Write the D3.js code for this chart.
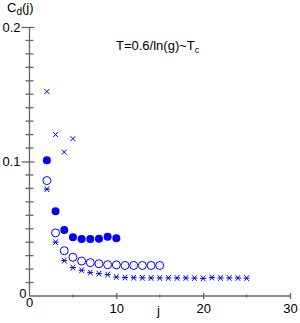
<!DOCTYPE html>
<html>
<head>
<meta charset="utf-8">
<script src="https://cdn.jsdelivr.net/npm/d3@7"></script>
<style>
  body { margin: 0; background: #fff; }
  svg { display: block; font-family: "Liberation Sans", Arial, sans-serif; }
</style>
</head>
<body>
<svg id="chart" width="300" height="323"></svg>
<script>
// values
const crossJ = [2, 3, 4, 5];
const crossC = [0.152, 0.120, 0.107, 0.117];

const dotJ = [2, 3, 4, 5, 6, 7, 8, 9, 10];
const dotC = [0.101, 0.063, 0.049, 0.0437, 0.0424, 0.0424, 0.0426, 0.0441, 0.0429];

const ringJ = [2, 3, 4, 5, 6, 7, 8, 9, 10, 11, 12, 13, 14, 15];
const ringC = [0.0858, 0.0469, 0.0337, 0.0288, 0.026, 0.0248, 0.024, 0.0233, 0.0231, 0.0227, 0.0227, 0.0227, 0.0227, 0.0227];

const starJ = [2, 3, 4, 5, 6, 7, 8, 9, 10, 11, 12, 13, 14, 15, 16, 17, 18, 19, 20, 21, 22, 23, 24, 25];
const starC = [0.0794, 0.040, 0.0263, 0.0211, 0.0191, 0.0174, 0.0166, 0.0159, 0.0141, 0.0137, 0.0136, 0.0135, 0.0134, 0.0134,
  0.0134, 0.0134, 0.0134, 0.0133, 0.0131, 0.0137, 0.0134, 0.0134, 0.0134, 0.0133];

const xTicks = [10, 20, 30];
const xMinor = [5, 15, 25];
const yTicks = [0.1, 0.2];
const yMinor = [0.01, 0.02, 0.03, 0.04, 0.05, 0.06, 0.07, 0.08, 0.09,
  0.11, 0.12, 0.13, 0.14, 0.15, 0.16, 0.17, 0.18, 0.19];

const blue = "#0000ff";
const axisCol = "#666";

const svg = d3.select("#chart");
const x = d3.scaleLinear().domain([0, 30]).range([29.5, 290]);
const y = d3.scaleLinear().domain([0, 0.2]).range([296, 27]);

// x axis
const xAxis = svg.append("g").attr("transform", `translate(0,${y(0)})`)
  .call(d3.axisBottom(x).tickValues(xTicks).tickSize(3).tickPadding(5));
xAxis.select(".domain").attr("stroke", axisCol).attr("stroke-width", 1.3).attr("d", `M${x(0)},0H${x(30)}`);
xAxis.selectAll(".tick line").attr("y1", -3).attr("stroke", axisCol).attr("stroke-width", 1.3);
xAxis.selectAll(".tick text").attr("font-size", 13).attr("fill", "#000")
  .attr("font-family", "Liberation Sans, Arial, sans-serif");
xAxis.selectAll(".minor").data(xMinor).enter().append("line").attr("class", "minor")
  .attr("x1", d => x(d)).attr("x2", d => x(d)).attr("y1", -1.5).attr("y2", 1.5)
  .attr("stroke", axisCol).attr("stroke-width", 1.3);

// y axis
const yAxis = svg.append("g").attr("transform", `translate(${x(0)},0)`)
  .call(d3.axisLeft(y).tickValues(yTicks).tickSize(8).tickPadding(1).tickFormat(d3.format(".1f")));
yAxis.select(".domain").attr("stroke", axisCol).attr("stroke-width", 1.3).attr("d", `M0,${y(0)}V${y(0.2)}`);
yAxis.selectAll(".tick line").attr("x2", 5).attr("x1", -8).attr("stroke", axisCol).attr("stroke-width", 1.3);
yAxis.selectAll(".tick text").attr("font-size", 13).attr("fill", "#000")
  .attr("font-family", "Liberation Sans, Arial, sans-serif");
yAxis.selectAll(".minor").data(yMinor).enter().append("line").attr("class", "minor")
  .attr("x1", -4).attr("x2", 4)
  .attr("y1", d => y(d)).attr("y2", d => y(d))
  .attr("stroke", axisCol).attr("stroke-width", 1.3);

// the two zeros at the origin
svg.append("text").attr("x", x(0) - 3).attr("y", y(0) + 2).attr("text-anchor", "end")
  .attr("font-size", 13).text("0");
svg.append("text").attr("x", x(0)).attr("y", y(0) + 11).attr("text-anchor", "middle")
  .attr("font-size", 13).text("0");

// labels
const ylab = svg.append("text").attr("x", 7).attr("y", 12).attr("font-size", 13);
ylab.append("tspan").text("C");
ylab.append("tspan").attr("font-size", 10).attr("dy", 3).text("d");
ylab.append("tspan").attr("dy", -3).text("(j)");

svg.append("text").attr("x", 157).attr("y", 315).attr("font-size", 13).text("j");

const note = svg.append("text").attr("x", 116).attr("y", 50).attr("font-size", 13);
note.append("tspan").text("T=0.6/ln(g)~T");
note.append("tspan").attr("font-size", 9).attr("dy", 3).text("c");

// series
const g = svg.append("g");

g.selectAll(".cross").data(crossJ).enter().append("path")
  .attr("transform", (d, i) => `translate(${x(d)},${y(crossC[i])})`)
  .attr("d", "M-2.5,-2.5L2.5,2.5M-2.5,2.5L2.5,-2.5")
  .attr("stroke", blue).attr("stroke-width", 1).attr("fill", "none");

g.selectAll(".dot").data(dotJ).enter().append("circle")
  .attr("cx", d => x(d)).attr("cy", (d, i) => y(dotC[i])).attr("r", 4)
  .attr("fill", blue);

g.selectAll(".ring").data(ringJ).enter().append("circle")
  .attr("cx", d => x(d)).attr("cy", (d, i) => y(ringC[i])).attr("r", 4)
  .attr("fill", "none").attr("stroke", blue).attr("stroke-width", 1);

g.selectAll(".star").data(starJ).enter().append("path")
  .attr("transform", (d, i) => `translate(${x(d)},${y(starC[i])})`)
  .attr("d", "M-3,0H3M-2.2,-2.8L2.2,2.8M-2.2,2.8L2.2,-2.8")
  .attr("stroke", blue).attr("stroke-width", 1).attr("fill", "none");
</script>
</body>
</html>
